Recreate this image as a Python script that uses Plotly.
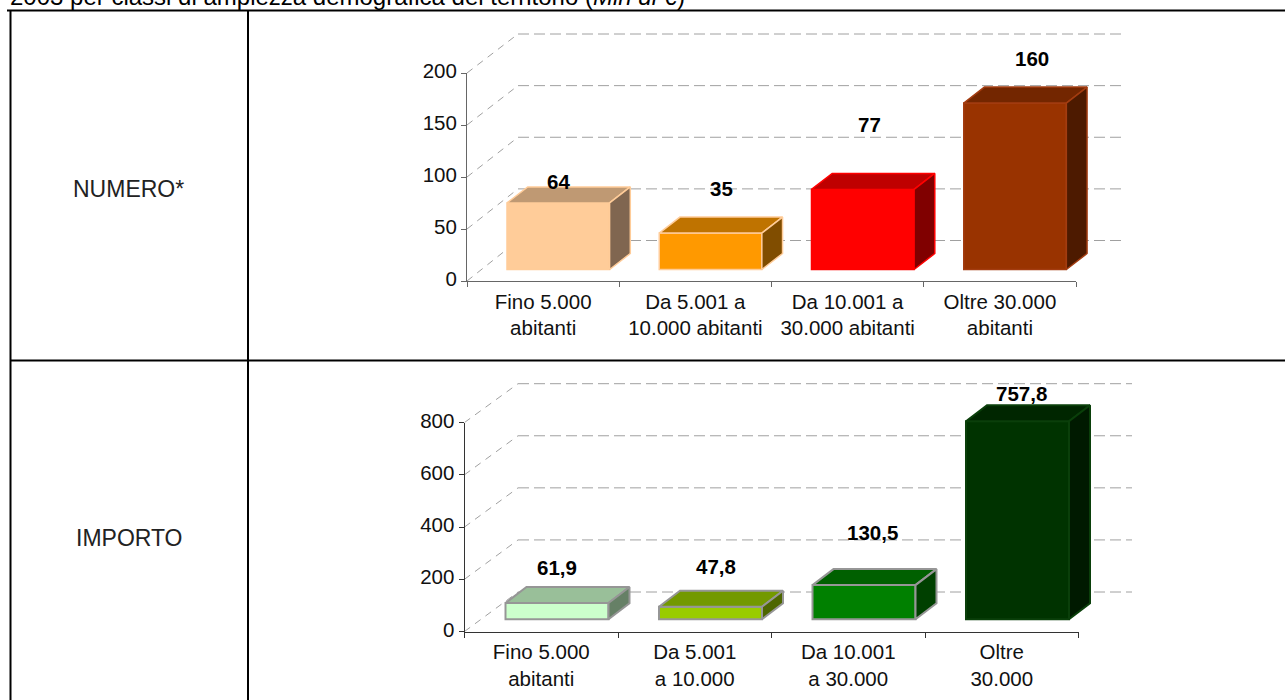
import plotly.graph_objects as go

WIDTH, HEIGHT = 1285, 700

# ---- data ----
NUM_CATEGORIES = ["Fino 5.000<br>abitanti", "Da 5.001 a<br>10.000 abitanti",
                  "Da 10.001 a<br>30.000 abitanti", "Oltre 30.000<br>abitanti"]
NUM_VALUES = [64, 35, 77, 160]
NUM_LABELS = ["64", "35", "77", "160"]
NUM_TICKS = [0, 50, 100, 150, 200]

IMP_CATEGORIES = ["Fino 5.000<br>abitanti", "Da 5.001<br>a 10.000",
                  "Da 10.001<br>a 30.000", "Oltre<br>30.000"]
IMP_VALUES = [61.9, 47.8, 130.5, 757.8]
IMP_LABELS = ["61,9", "47,8", "130,5", "757,8"]
IMP_TICKS = [0, 200, 400, 600, 800]

TITLE = "2003 per classi di ampiezza demografica del territorio (<i>Mln di €</i>)"
ROW_LABELS = ["NUMERO*", "IMPORTO"]

# ---- styles ----
FONT = "Liberation Sans"
NUM_FRONT = ["#FFCC99", "#FF9900", "#FF0000", "#993300"]
NUM_TOP = ["#BF9973", "#BF7300", "#BF0000", "#732600"]
NUM_SIDE = ["#806650", "#804D00", "#800000", "#4D1A00"]
NUM_EDGE = ["#FFCC99", "#FFCC99", "#FF0000", "#A33C10"]
IMP_FRONT = ["#CCFFCC", "#99CC00", "#008000", "#003300"]
IMP_TOP = ["#99BF99", "#739900", "#006000", "#002600"]
IMP_SIDE = ["#668066", "#4D6600", "#004000", "#001A00"]
IMP_EDGE = ["#969696", "#969696", "#969696", "#0A3F0A"]

NUM_LABEL_SHIFT = [(0, 21), (11, 45), (7, 65), (17, 45)]
IMP_LABEL_SHIFT = [(0, 36), (5, 40), (8, 53), (4, 28)]
GRID_COLOR = "#A0A0A0"


def px_x(p):
    return p / WIDTH


def px_y(p):
    return 1 - p / HEIGHT


PANELS = [
    dict(cats=NUM_CATEGORIES, vals=NUM_VALUES, labels=NUM_LABELS, ticks=NUM_TICKS,
         front=NUM_FRONT, top=NUM_TOP, side=NUM_SIDE, edge=NUM_EDGE, shift=NUM_LABEL_SHIFT,
         ax=(467, 1076), ay=(281, 73), bx=(518, 1122), by=(240.5, 34), stage_top=14,
         bar_left=40, bar_w=102.6, base_px=11.5, depth=(20.7, 16), edge_w=1.5,
         axis_color="#666666", ids=("", "2")),
    dict(cats=IMP_CATEGORIES, vals=IMP_VALUES, labels=IMP_LABELS, ticks=IMP_TICKS,
         front=IMP_FRONT, top=IMP_TOP, side=IMP_SIDE, edge=IMP_EDGE, shift=IMP_LABEL_SHIFT,
         ax=(464.5, 1078.5), ay=(631.5, 422.5), bx=(518, 1132), by=(592, 383.7), stage_top=364,
         bar_left=41, bar_w=103, base_px=12.3, depth=(21, 16), edge_w=2,
         axis_color="#333333", ids=("3", "4")),
]

fig = go.Figure()
layout = dict(
    template="none",
    width=WIDTH, height=HEIGHT, margin=dict(l=0, r=0, t=0, b=0, pad=0),
    paper_bgcolor="white", plot_bgcolor="rgba(0,0,0,0)", showlegend=False, hovermode=False,
    font=dict(family=FONT, color="#000000", size=20),
)
annotations = []
shapes = []

for panel in PANELS:
    stage_id, axis_id = panel["ids"]
    n = len(panel["vals"])
    ymax = panel["ticks"][-1]
    ax0, ax1 = panel["ax"]
    ay0, ay1 = panel["ay"]
    bx0, bx1 = panel["bx"]
    by0, by1 = panel["by"]
    xpx = (ax1 - ax0) / n        # pixels per category
    ypx = (ay0 - ay1) / ymax     # pixels per value unit

    # stage: hidden axes in the same units as the visible axes, extended to hold the 3-D depth
    stage_x1 = (WIDTH - ax0) / xpx
    stage_y1 = (ay0 - panel["stage_top"]) / ypx
    layout["xaxis" + stage_id] = dict(
        domain=[px_x(ax0), 1], range=[0, stage_x1], anchor="y" + stage_id, visible=False,
        automargin=False, fixedrange=True)
    layout["yaxis" + stage_id] = dict(
        domain=[px_y(ay0), px_y(panel["stage_top"])], range=[0, stage_y1], anchor="x" + stage_id,
        visible=False, automargin=False, fixedrange=True)

    # visible axes
    centers_cat = [i + 0.5 for i in range(n)]
    layout["xaxis" + axis_id] = dict(
        domain=[px_x(ax0), px_x(ax1)], range=[0, n], anchor="y" + axis_id, automargin=False,
        tickvals=centers_cat, ticktext=panel["cats"], ticks="", showline=True, linecolor=panel["axis_color"],
        linewidth=1, showgrid=False, zeroline=False, fixedrange=True, ticklabelstandoff=2,
        tickfont=dict(size=20.5, family=FONT, color="#111111"),
        minor=dict(tickvals=list(range(n + 1)), ticks="outside", ticklen=5, tickwidth=1,
                   tickcolor=panel["axis_color"], showgrid=False))
    layout["yaxis" + axis_id] = dict(
        domain=[px_y(ay0), px_y(ay1)], range=[0, ymax], anchor="x" + axis_id, automargin=False,
        tickvals=panel["ticks"], ticks="outside", ticklen=5, tickwidth=1, tickcolor=panel["axis_color"],
        showline=True, linecolor=panel["axis_color"], linewidth=1, showgrid=False, zeroline=False,
        fixedrange=True, ticklabelshift=-2, tickfont=dict(size=20.5, family=FONT, color="#111111"))

    # back-wall gridlines and floor diagonals, below the bars
    wall_dx0 = (bx0 - ax0) / xpx
    wall_dx1 = (bx1 - ax0) / xpx
    wall_scale = (by0 - by1) / (ay0 - ay1)
    wall_dy = (ay0 - by0) / ypx
    xref, yref = "x" + stage_id, "y" + stage_id
    for t in panel["ticks"]:
        back_y = t * wall_scale + wall_dy
        shapes.append(dict(type="line", xref=xref, yref=yref, layer="below",
                           x0=wall_dx0, x1=wall_dx1, y0=back_y, y1=back_y,
                           line=dict(color=GRID_COLOR, width=1, dash="11px,5px")))
        shapes.append(dict(type="line", xref=xref, yref=yref, layer="below",
                           x0=0, x1=wall_dx0, y0=t, y1=back_y,
                           line=dict(color=GRID_COLOR, width=1, dash="7px,6px")))

    # 3-D bars: front face from a bar trace, top and side faces projected from the same values
    width = panel["bar_w"] / xpx
    left = panel["bar_left"] / xpx
    base = panel["base_px"] / ypx
    ddx = panel["depth"][0] / xpx
    ddy = panel["depth"][1] / ypx
    xc = [i + left + width / 2 for i in range(n)]
    fig.add_trace(go.Bar(
        x=xc, y=panel["vals"], base=base, width=width,
        marker=dict(color=panel["front"], line=dict(color=panel["edge"], width=panel["edge_w"])),
        xaxis=xref, yaxis=yref))
    for i, v in enumerate(panel["vals"]):
        x0, x1 = xc[i] - width / 2, xc[i] + width / 2
        t = base + v
        fig.add_trace(go.Scatter(
            x=[x0, x1, x1 + ddx, x0 + ddx, x0], y=[t, t, t + ddy, t + ddy, t],
            mode="lines", fill="toself", fillcolor=panel["top"][i],
            line=dict(color=panel["edge"][i], width=panel["edge_w"]),
            xaxis=xref, yaxis=yref))
        fig.add_trace(go.Scatter(
            x=[x1, x1, x1 + ddx, x1 + ddx, x1], y=[base, t, t + ddy, base + ddy, base],
            mode="lines", fill="toself", fillcolor=panel["side"][i],
            line=dict(color=panel["edge"][i], width=panel["edge_w"]),
            xaxis=xref, yaxis=yref))
        annotations.append(dict(
            x=xc[i], y=t, xref=xref, yref=yref, text="<b>%s</b>" % panel["labels"][i],
            showarrow=False, xanchor="center", yanchor="middle",
            xshift=panel["shift"][i][0], yshift=panel["shift"][i][1],
            font=dict(size=20.5, family=FONT, color="#000000")))

    # empty trace so that the visible axis pair is drawn
    fig.add_trace(go.Scatter(x=[0], y=[0], mode="none", xaxis="x" + axis_id, yaxis="y" + axis_id))

# table rules
RULES = [(7, 10.5, 1285, 10.5), (10.5, 10.5, 10.5, 700), (248, 10.5, 248, 700), (10.5, 360.5, 1285, 360.5)]
shapes += [
    dict(type="line", xref="paper", yref="paper", x0=px_x(a), y0=px_y(b), x1=px_x(c), y1=px_y(d),
         line=dict(color="#000000", width=2), layer="above")
    for a, b, c, d in RULES
]
layout["shapes"] = shapes

annotations.append(dict(x=px_x(8), y=px_y(5), xref="paper", yref="paper", text=TITLE, showarrow=False,
                        xanchor="left", yanchor="bottom", yshift=-7,
                        font=dict(size=24, family=FONT, color="#000000")))
annotations.append(dict(x=px_x(128), y=px_y(189), xref="paper", yref="paper", text=ROW_LABELS[0],
                        showarrow=False, xanchor="center", yanchor="middle",
                        font=dict(size=23, family=FONT, color="#222222")))
annotations.append(dict(x=px_x(129), y=px_y(538), xref="paper", yref="paper", text=ROW_LABELS[1],
                        showarrow=False, xanchor="center", yanchor="middle",
                        font=dict(size=23, family=FONT, color="#222222")))
layout["annotations"] = annotations

fig.update_layout(**layout)
fig.write_html("out.html", config={"displayModeBar": False},
               post_script="document.body.style.margin='0';document.body.style.overflow='hidden';")
